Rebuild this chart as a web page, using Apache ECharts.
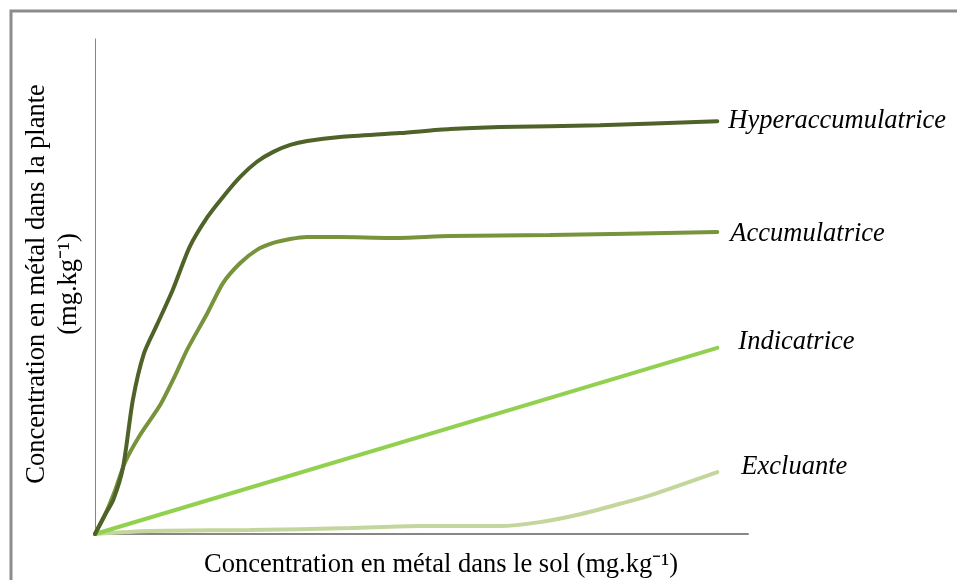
<!DOCTYPE html>
<html>
<head>
<meta charset="utf-8">
<script src="https://cdn.jsdelivr.net/npm/echarts@6/dist/echarts.min.js"></script>
<style>html,body{margin:0;padding:0;background:#fff;}#c{width:957px;height:580px;}</style>
</head>
<body>
<div id="c"></div>
<script>
// Schematic values (arbitrary units, x and y from 0 to 100)
const seriesNames = ['Hyperaccumulatrice', 'Accumulatrice', 'Indicatrice', 'Excluante'];
const hyperData = [[0,0],[1.5,3.8],[2.8,6.9],[4.3,13.5],[5.8,27.1],[7.5,36.5],[9.5,42.3],[11.9,49.3],[14.5,58.0],[17.2,64.0],[19.6,68.1],[22.2,72.1],[24.8,75.2],[27.3,77.2],[29.9,78.6],[32.5,79.4],[37.5,80.2],[46.7,81.0],[54.4,81.8],[62.0,82.2],[77.3,82.6],[95.3,83.4]];
const accumData = [[0,0],[1.5,3.8],[3.1,8.9],[4.6,14.5],[6.9,20.0],[10.0,26.1],[12.3,32.1],[14.1,37.2],[17.2,44.6],[19.6,50.7],[22.2,54.7],[24.8,57.4],[27.3,58.8],[29.9,59.6],[32.5,60.0],[37.5,60.0],[45.2,59.8],[54.4,60.2],[69.7,60.4],[95.3,61.0]];
const indicData = [[0,0],[95.3,37.6]];
const excluData = [[0,0],[8.4,0.6],[23.7,0.8],[39.1,1.2],[49.8,1.6],[62.0,1.6],[68.1,2.4],[74.3,4.0],[80.4,6.1],[85.0,7.8],[95.3,12.5]];
const xTitle = 'Concentration en métal dans le sol (mg.kg⁻¹)';
const yTitle = 'Concentration en métal dans la plante\n(mg.kg⁻¹)';

const colors = ['#4f6228', '#77933c', '#92d050', '#c3d69b'];
const labelOffsets = [[11, 0], [13, 2], [21, -6], [24, -5]];
const allData = [hyperData, accumData, indicData, excluData];
const serif = "'Liberation Serif', 'Times New Roman', serif";

const chart = echarts.init(document.getElementById('c'), null, {renderer: 'canvas'});
chart.setOption({
  animation: false,
  backgroundColor: '#fff',
  grid: {left: 95, right: 209, top: 39, bottom: 46, containLabel: false, outerBoundsMode: 'none'},
  xAxis: {
    type: 'value', min: 0, max: 100,
    axisLine: {show: true, lineStyle: {color: '#868686', width: 2}},
    axisTick: {show: false}, axisLabel: {show: false}, splitLine: {show: false},
    name: xTitle, nameLocation: 'middle', nameGap: 18,
    nameTextStyle: {fontFamily: serif, fontSize: 26.5, color: '#000', padding: [0, 0, 0, 39]}
  },
  yAxis: {
    type: 'value', min: 0, max: 100,
    axisLine: {show: true, lineStyle: {color: '#868686', width: 1}},
    axisTick: {show: false}, axisLabel: {show: false}, splitLine: {show: false}
  },
  graphic: [
    {type: 'rect', shape: {x: 11, y: 11, width: 1000, height: 1000}, style: {fill: 'none', stroke: '#8c8c8c', lineWidth: 3}, silent: true},
    {type: 'text', x: 53, y: 284, rotation: Math.PI / 2,
     style: {text: yTitle, font: '26.5px ' + serif, fill: '#000', textAlign: 'center', textVerticalAlign: 'middle', lineHeight: 32}}
  ],
  series: allData.map((d, i) => ({
    name: seriesNames[i],
    type: 'line',
    data: d,
    smooth: i === 2 ? false : 0.25,
    showSymbol: false,
    lineStyle: {color: colors[i], width: 4, cap: 'round'},
    itemStyle: {color: colors[i]},
    z: 10 - i,
    endLabel: {
      show: true, formatter: '{a}', offset: labelOffsets[i], distance: 0,
      fontFamily: serif, fontStyle: 'italic', fontSize: 26.5, color: '#000'
    }
  }))
});
</script>
</body>
</html>
